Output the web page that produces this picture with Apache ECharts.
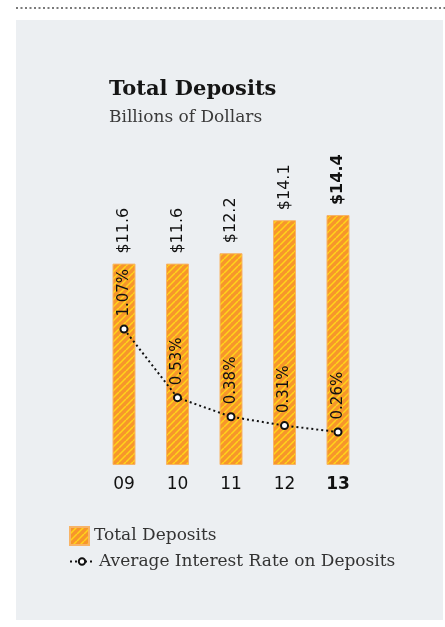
<!DOCTYPE html>
<html>
<head>
<meta charset="utf-8">
<script src="https://cdn.jsdelivr.net/npm/echarts@6/dist/echarts.min.js"></script>
<style>
  html, body { margin: 0; padding: 0; background: #ffffff; }
  #chart { width: 445px; height: 627px; }
</style>
</head>
<body>
<div id="chart"></div>
<script>
// Fiscal years (two-digit) and values
const years = ['09', '10', '11', '12', '13'];
const totalDeposits = [11.6, 11.6, 12.2, 14.1, 14.4];       // billions of dollars
const avgInterestRate = [1.07, 0.53, 0.38, 0.31, 0.26];     // percent
const highlightYear = '13';

// Orange fill with thin yellow diagonal hatching
function hatchPattern() {
  const s = 7;
  const c = document.createElement('canvas');
  c.width = s; c.height = s;
  const g = c.getContext('2d');
  g.fillStyle = '#F7962B';
  g.fillRect(0, 0, s, s);
  g.strokeStyle = '#FFD51A';
  g.lineWidth = 1.5;
  for (const off of [-s, 0, s]) {
    g.beginPath();
    g.moveTo(off, s);
    g.lineTo(off + s, 0);
    g.stroke();
  }
  return c;
}

const chart = echarts.init(document.getElementById('chart'), null, { renderer: 'canvas' });
const pattern = { image: hatchPattern(), repeat: 'repeat' };
const sans = 'DejaVu Sans';
const serif = 'DejaVu Serif';

chart.setOption({
  backgroundColor: '#ffffff',
  animation: false,
  graphic: [
    {
      type: 'line', z: -1,
      shape: { x1: 16, y1: 8, x2: 445, y2: 8 },
      style: { stroke: '#7a7a7a', lineWidth: 2, lineDash: [2, 2.5] }
    },
    {
      type: 'rect', z: -10,
      shape: { x: 16, y: 20, width: 427, height: 600 },
      style: { fill: '#ECEFF2' }
    },
    {
      type: 'text', left: 109, top: 79,
      style: { text: 'Total Deposits', font: 'bold 21px "DejaVu Serif"', fill: '#151515' }
    },
    {
      type: 'text', left: 109, top: 109,
      style: { text: 'Billions of Dollars', font: '17px "DejaVu Serif"', fill: '#3a3a3a' }
    }
  ],
  legend: [
    {
      data: [{ name: 'Total Deposits', icon: 'rect' }],
      left: 69, top: 526, padding: 0,
      itemWidth: 19, itemHeight: 18,
      textStyle: { fontFamily: serif, fontSize: 17, color: '#333' }
    },
    {
      data: ['Average Interest Rate on Deposits'],
      left: 69, top: 553, padding: 0,
      itemWidth: 24, itemHeight: 8,
      textStyle: { fontFamily: serif, fontSize: 17, color: '#333' }
    }
  ],
  grid: { left: 97.25, right: 80.25, top: 204.6, bottom: 162, containLabel: false },
  xAxis: {
    type: 'category',
    data: years,
    axisLine: { show: false },
    axisTick: { show: false },
    axisLabel: {
      interval: 0,
      margin: 11,
      fontFamily: sans, fontSize: 17, color: '#111',
      formatter: v => v === highlightYear ? '{b|' + v + '}' : v,
      rich: { b: { fontFamily: sans, fontSize: 17, fontWeight: 'bold', color: '#111' } }
    }
  },
  yAxis: [
    { type: 'value', min: 0, max: 15, show: false, splitLine: { show: false } },
    { type: 'value', min: 0, max: 2.05, show: false, splitLine: { show: false } }
  ],
  series: [
    {
      name: 'Total Deposits',
      type: 'bar',
      data: totalDeposits,
      barWidth: 23,
      itemStyle: { color: pattern, borderColor: '#F8B467', borderWidth: 1 },
      label: {
        show: true,
        position: 'top',
        rotate: 90,
        align: 'left',
        verticalAlign: 'middle',
        distance: 10,
        fontFamily: sans, fontSize: 16, color: '#111',
        formatter: p => p.name === highlightYear ? '{b|$' + p.value + '}' : '$' + p.value,
        rich: { b: { fontFamily: sans, fontSize: 16, fontWeight: 'bold', color: '#111' } }
      }
    },
    {
      name: 'Average Interest Rate on Deposits',
      type: 'line',
      yAxisIndex: 1,
      data: avgInterestRate,
      symbol: 'circle',
      symbolSize: 7,
      z: 5,
      lineStyle: { color: '#111', width: 2, type: [2, 3] },
      itemStyle: { color: '#fff', borderColor: '#111', borderWidth: 2 },
      label: {
        show: true,
        position: 'top',
        rotate: 90,
        align: 'left',
        verticalAlign: 'middle',
        distance: 8,
        fontFamily: sans, fontSize: 15, color: '#111',
        formatter: p => p.value.toFixed(2) + '%'
      }
    }
  ]
});
</script>
</body>
</html>
